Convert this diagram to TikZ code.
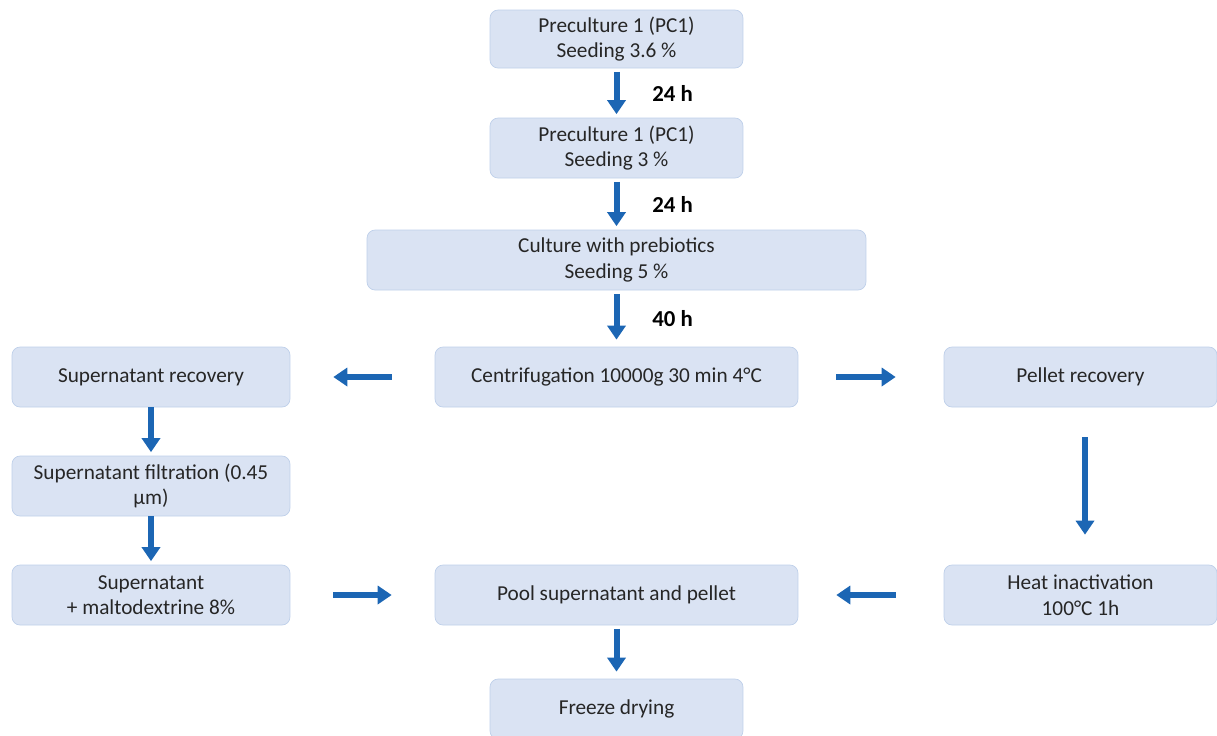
\documentclass[tikz,border=0pt]{standalone}
\usepackage{fontspec}
\setmainfont{Carlito}
\usetikzlibrary{arrows.meta}
\definecolor{boxfill}{HTML}{DAE3F3}
\definecolor{boxline}{HTML}{BFD0EA}
\definecolor{flowblue}{HTML}{1C66B4}
\begin{document}
\begin{tikzpicture}[
    x=0.02cm, y=-0.02cm,
    stepbox/.style={rectangle,rounded corners=0.16cm,draw=boxline,fill=boxfill,
      align=center,minimum height=1.2cm,inner sep=2pt,
      font=\fontsize{12.1}{14.5}\selectfont,text=black!85},
    flow/.style={draw=flowblue,line width=0.12cm,
      -{Triangle[width=0.36cm,length=0.28cm]}},
    hours/.style={font=\fontsize{13}{15}\selectfont\bfseries,anchor=west,text=black}
    ]
    \useasboundingbox (0,0) rectangle (1217,735);

    % main column:
    \node (pc1) at (616.5, 39) [stepbox, minimum width=5.06cm, minimum height=1.16cm] {Preculture 1 (PC1)\\Seeding 3.6 \%};
    \node (pc2) at (616.5, 148) [stepbox, minimum width=5.06cm] {Preculture 1 (PC1)\\Seeding 3 \%};
    \node (culture) at (616.5, 260) [stepbox, minimum width=9.98cm] {Culture with prebiotics\\Seeding 5 \%};
    \node (centri) at (616.5, 377) [stepbox, minimum width=7.26cm] {Centrifugation 10000g 30 min 4°C};
    \node (pool) at (616.5, 595) [stepbox, minimum width=7.26cm] {Pool supernatant and pellet};
    \node (freeze) at (616.5, 709) [stepbox, minimum width=5.06cm] {Freeze drying};

    % left column:
    \node (super) at (151, 377) [stepbox, minimum width=5.56cm] {Supernatant recovery};
    \node (filt) at (151, 486) [stepbox, minimum width=5.56cm] {Supernatant filtration (0.45\\µm)};
    \node (malto) at (151, 595) [stepbox, minimum width=5.56cm] {Supernatant\\+ maltodextrine 8\%};

    % right column:
    \node (pellet) at (1080.5, 377) [stepbox, minimum width=5.46cm] {Pellet recovery};
    \node (heat) at (1080.5, 595) [stepbox, minimum width=5.46cm] {Heat inactivation\\100°C 1h};

    % connect nodes:
    \draw [flow, shorten <=2pt, shorten >=2pt] (pc1) to node (t1) [hours, xshift=0.54cm] {24 h} (pc2);
    \draw [flow, shorten <=2pt, shorten >=2pt] (pc2) to node (t2) [hours, xshift=0.54cm] {24 h} (culture);
    \draw [flow, shorten <=2pt, shorten >=4pt] (culture) to node (t3) [hours, xshift=0.54cm] {40 h} (centri);
    \draw [flow, shorten <=0.86cm, shorten >=0.86cm] (centri) to (super);
    \draw [flow, shorten <=0.76cm, shorten >=0.96cm] (centri) to (pellet);
    \draw [flow, shorten >=2pt] (super) to (filt);
    \draw [flow, shorten >=2pt] (filt) to (malto);
    \draw [flow, shorten <=0.6cm, shorten >=0.6cm] (pellet.south -| 1085,0) to (heat.north -| 1085,0);
    \draw [flow, shorten <=0.86cm, shorten >=0.86cm] (malto) to (pool);
    \draw [flow, shorten <=0.96cm, shorten >=0.76cm] (heat) to (pool);
    \draw [flow, shorten <=2pt, shorten >=4pt] (pool) to (freeze);

  \end{tikzpicture}
\end{document}
